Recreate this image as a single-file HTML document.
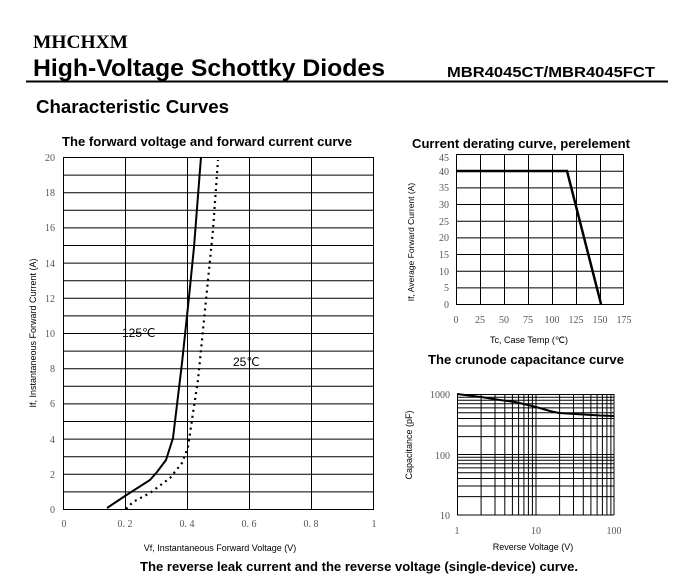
<!DOCTYPE html>
<html><head><meta charset="utf-8"><style>
html,body{margin:0;padding:0;background:#fff;width:700px;height:586px;overflow:hidden}
svg{display:block}
</style></head><body>
<svg width="700" height="586" xmlns="http://www.w3.org/2000/svg" font-family="Liberation Sans, sans-serif">
<text x="33" y="48" font-family="Liberation Serif, serif" font-weight="bold" font-size="19" textLength="95" lengthAdjust="spacingAndGlyphs">MHCHXM</text>
<text x="33" y="76" font-weight="bold" font-size="24" textLength="352" lengthAdjust="spacingAndGlyphs">High-Voltage Schottky Diodes</text>
<text x="447" y="77" font-weight="bold" font-size="15" textLength="208" lengthAdjust="spacingAndGlyphs">MBR4045CT/MBR4045FCT</text>
<line x1="26" y1="81.5" x2="668" y2="81.5" stroke="#000" stroke-width="2"/>
<text x="36" y="113" font-weight="bold" font-size="18" textLength="193" lengthAdjust="spacingAndGlyphs">Characteristic Curves</text>

<!-- main chart -->
<text x="62" y="146" font-weight="bold" font-size="12.5" textLength="290" lengthAdjust="spacingAndGlyphs">The forward voltage and forward current curve</text>
<g stroke="#000" stroke-width="1">
<path d="M63 157.5H374 M63 175.1H374 M63 192.7H374 M63 210.3H374 M63 227.9H374 M63 245.5H374 M63 263.1H374 M63 280.7H374 M63 298.3H374 M63 315.9H374 M63 333.5H374 M63 351.1H374 M63 368.7H374 M63 386.3H374 M63 403.9H374 M63 421.5H374 M63 439.1H374 M63 456.7H374 M63 474.3H374 M63 491.9H374 M63 509.5H374"/>
<path d="M63.5 157V510 M125.5 157V510 M187.5 157V510 M249.5 157V510 M311.5 157V510 M373.5 157V510"/>
</g>
<g font-family="Liberation Serif, serif" font-size="10" fill="#555" text-anchor="end">
<text x="55" y="161">20</text><text x="55" y="196">18</text><text x="55" y="231">16</text><text x="55" y="267">14</text><text x="55" y="302">12</text><text x="55" y="337">10</text><text x="55" y="372">8</text><text x="55" y="407">6</text><text x="55" y="443">4</text><text x="55" y="478">2</text><text x="55" y="513">0</text>
</g>
<g font-family="Liberation Serif, serif" font-size="10" fill="#555" text-anchor="middle">
<text x="64" y="527">0</text><text x="125" y="527">0. 2</text><text x="187" y="527">0. 4</text><text x="249" y="527">0. 6</text><text x="311" y="527">0. 8</text><text x="374" y="527">1</text>
</g>
<polyline fill="none" stroke="#000" stroke-width="2" points="107,508 125,496 150,480 157,472 166,460 173,438 182,363 189,297 194,247 201,157"/>
<polyline fill="none" stroke="#000" stroke-width="2.2" stroke-dasharray="2,4" points="126,509 133,502 150,493 170,478 182,463 188,447 193,413 198,380 203,330 208,280 213,230 218,160"/>
<text x="122" y="337" font-size="12">125℃</text>
<text x="233" y="366" font-size="12">25℃</text>
<text transform="translate(36,333) rotate(-90)" font-size="9" text-anchor="middle">If, Instantaneous Forward Current (A)</text>
<text x="220" y="551" font-size="9" text-anchor="middle">Vf, Instantaneous Forward Voltage (V)</text>

<!-- derating -->
<text x="412" y="148" font-weight="bold" font-size="12.5" textLength="218" lengthAdjust="spacingAndGlyphs">Current derating curve, perelement</text>
<g stroke="#000" stroke-width="1">
<path d="M456 154.5H624 M456 171.2H624 M456 187.9H624 M456 204.5H624 M456 221.2H624 M456 237.9H624 M456 254.5H624 M456 271.2H624 M456 287.9H624 M456 304.5H624"/>
<path d="M456.5 154V305 M480.5 154V305 M504.5 154V305 M528.5 154V305 M552.5 154V305 M576.5 154V305 M600.5 154V305 M623.5 154V305"/>
</g>
<g font-family="Liberation Serif, serif" font-size="10" fill="#555" text-anchor="end">
<text x="449" y="161">45</text><text x="449" y="175">40</text><text x="449" y="191">35</text><text x="449" y="208">30</text><text x="449" y="225">25</text><text x="449" y="241">20</text><text x="449" y="258">15</text><text x="449" y="275">10</text><text x="449" y="291">5</text><text x="449" y="308">0</text>
</g>
<g font-family="Liberation Serif, serif" font-size="10" fill="#555" text-anchor="middle">
<text x="456" y="323">0</text><text x="480" y="323">25</text><text x="504" y="323">50</text><text x="528" y="323">75</text><text x="552" y="323">100</text><text x="576" y="323">125</text><text x="600" y="323">150</text><text x="624" y="323">175</text>
</g>
<polyline fill="none" stroke="#000" stroke-width="2.5" points="456,171 567,171 601,304"/>
<text transform="translate(414,242) rotate(-90)" font-size="8.5" text-anchor="middle">If, Average Forward Current (A)</text>
<text x="529" y="343" font-size="9" text-anchor="middle">Tc, Case Temp (℃)</text>

<!-- capacitance -->
<text x="428" y="364" font-weight="bold" font-size="12.5" textLength="196" lengthAdjust="spacingAndGlyphs">The crunode capacitance curve</text>
<g stroke="#000" stroke-width="1">
<path d="M457 394.5H614 M457 397.3H614 M457 400.3H614 M457 403.8H614 M457 407.9H614 M457 412.7H614 M457 418.5H614 M457 426H614 M457 436.6H614 M457 454.5H614 M457 457.3H614 M457 460.3H614 M457 463.8H614 M457 467.9H614 M457 472.7H614 M457 478.5H614 M457 486H614 M457 496.6H614 M457 515H614"/>
<path d="M457.5 394V515 M481.1 394V515 M495 394V515 M504.8 394V515 M512.4 394V515 M518.6 394V515 M523.9 394V515 M528.4 394V515 M532.4 394V515 M536 394V515 M559.6 394V515 M573.5 394V515 M583.3 394V515 M590.9 394V515 M597.1 394V515 M602.4 394V515 M606.9 394V515 M610.9 394V515 M614 394V515"/>
</g>
<polyline fill="none" stroke="#000" stroke-width="2" points="457,394 481,397 500,400 515,402 528,405 536,407 550,411 559,413 575,414 600,415.5 614,416"/>
<g font-family="Liberation Serif, serif" font-size="10" fill="#555">
<text x="450" y="398" text-anchor="end">1000</text><text x="450" y="459" text-anchor="end">100</text><text x="450" y="519" text-anchor="end">10</text>
<text x="457" y="534" text-anchor="middle">1</text><text x="536" y="534" text-anchor="middle">10</text><text x="614" y="534" text-anchor="middle">100</text>
</g>
<text transform="translate(412,445) rotate(-90)" font-size="9" text-anchor="middle">Capacitance (pF)</text>
<text x="533" y="550" font-size="9" text-anchor="middle">Reverse Voltage (V)</text>

<text x="140" y="571" font-weight="bold" font-size="12.5" textLength="438" lengthAdjust="spacingAndGlyphs">The reverse leak current and the reverse voltage (single-device) curve.</text>
</svg>
</body></html>
